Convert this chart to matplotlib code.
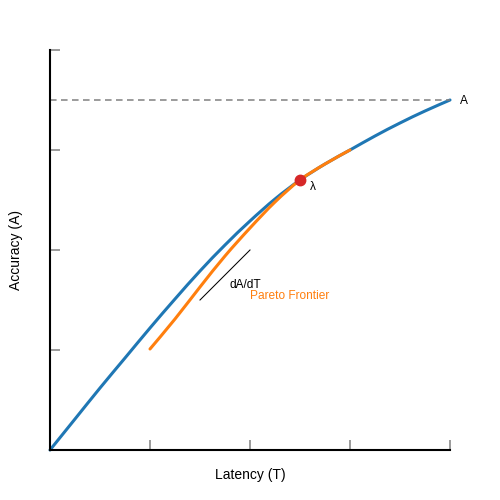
import matplotlib
matplotlib.use("Agg")
import matplotlib.pyplot as plt
from matplotlib.path import Path
from matplotlib.patches import PathPatch
import numpy as np

plt.rcParams['font.family'] = ['Liberation Sans', 'DejaVu Sans']

# krzywa bazowa (niebieska)
base_T = [0, 0.25, 0.5, 0.75, 1.0, 1.25, 1.5, 1.75, 2.0, 2.25, 2.5, 2.75, 3.0, 3.25, 3.5, 3.75, 4.0]
base_A = [0, 0.31, 0.62, 0.92, 1.22, 1.51, 1.79, 2.05, 2.29, 2.51, 2.70, 2.86, 3.00, 3.14, 3.27, 3.39, 3.50]

# front Pareto (pomaranczowy)
pareto_T = [1.0, 1.25, 1.5, 1.75, 2.0, 2.25, 2.5, 2.75, 3.0]
pareto_A = [1.01, 1.31, 1.63, 1.94, 2.22, 2.48, 2.70, 2.86, 3.00]

a_max = 3.5
lambda_point = (2.5, 2.70)
tangent_T = [1.5, 2.0]
tangent_A = [1.5, 2.0]
ticks = [1, 2, 3, 4]


def smooth_path(xs, ys):
    # Catmull-Rom -> krzywe Beziera, rysowane przez matplotlib
    p = np.column_stack([xs, ys]).astype(float)
    verts = [p[0]]
    codes = [Path.MOVETO]
    n = len(p)
    for i in range(n - 1):
        p0 = p[max(i - 1, 0)]
        p1 = p[i]
        p2 = p[i + 1]
        p3 = p[min(i + 2, n - 1)]
        c1 = p1 + (p2 - p0) / 6
        c2 = p2 - (p3 - p1) / 6
        verts += [c1, c2, p2]
        codes += [Path.CURVE4] * 3
    return Path(verts, codes)


fig = plt.figure(figsize=(5, 5), dpi=100)
ax = fig.add_axes([0.1, 0.1, 0.8, 0.8])
ax.set_xlim(0, 4)
ax.set_ylim(0, 4)

ax.plot([0, 4], [a_max, a_max], color='#808080', lw=1.1, linestyle=(0, (4.3, 2.9)))
ax.add_patch(PathPatch(smooth_path(base_T, base_A), fill=False, edgecolor='#1f77b4',
                       lw=2.2, clip_on=False, capstyle='round'))
ax.add_patch(PathPatch(smooth_path(pareto_T, pareto_A), fill=False, edgecolor='#ff7f0e',
                       lw=2.2, clip_on=False, capstyle='round'))
ax.plot(tangent_T, tangent_A, color='black', lw=0.75)
ax.plot(*lambda_point, 'o', color='#d62728', markersize=7.5, zorder=5)

ax.text(4.1, a_max - 0.01, 'A', fontsize=8.6, va='center', ha='left')
ax.text(2.6, 2.635, 'λ', fontsize=8.6, va='center', ha='left')
ax.text(1.8, 1.65, 'dA/dT', fontsize=8.6, va='center', ha='left')
ax.text(2.0, 1.54, 'Pareto Frontier', fontsize=8.6, va='center', ha='left', color='#ff7f0e')

for s in ['top', 'right']:
    ax.spines[s].set_visible(False)
for s in ['left', 'bottom']:
    ax.spines[s].set_linewidth(1.5)
    ax.spines[s].set_color('black')

ax.set_xticks(ticks)
ax.set_yticks(ticks)
ax.set_xticklabels([])
ax.set_yticklabels([])
ax.tick_params(direction='in', length=7.2, width=1.1, color='#808080')

fig.text(0.5, 0.05, 'Latency (T)', fontsize=10, ha='center', va='center')
fig.text(0.032, 0.5, 'Accuracy (A)', fontsize=10, ha='center', va='center', rotation=90)

fig.savefig('out.png', dpi=100)
